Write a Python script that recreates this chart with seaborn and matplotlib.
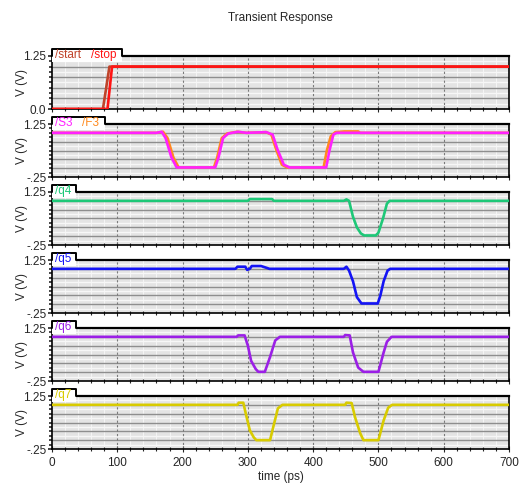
import numpy as np
import pandas as pd
import matplotlib
matplotlib.use("Agg")
import matplotlib.pyplot as plt
from matplotlib.patches import Rectangle
from matplotlib import font_manager
import seaborn as sns

# ---------------- data (time in ps, voltage in V) ----------------
start_t = [0, 78, 88, 700]
start_v = [0.0, 0.0, 1.0, 1.0]
stop_t = [0, 85, 92, 700]
stop_v = [0.0, 0.0, 1.0, 1.0]

S3_t = [0, 160, 168, 174, 183, 191, 250, 255, 262, 270, 285, 298, 328, 338, 345, 355, 364, 420, 425, 431, 436, 700]
S3_v = [1.0, 1.0, 1.03, 0.85, 0.30, 0.02, 0.02, 0.30, 0.85, 0.98, 1.03, 1.0, 1.02, 0.95, 0.55, 0.10, 0.02, 0.02, 0.50, 0.95, 1.0, 1.0]
F3_t = [0, 160, 170, 177, 186, 194, 248, 253, 260, 268, 283, 298, 328, 336, 343, 352, 360, 416, 421, 427, 434, 448, 469, 472, 700]
F3_v = [1.0, 1.0, 1.03, 0.85, 0.30, 0.02, 0.02, 0.30, 0.85, 0.98, 1.03, 1.0, 1.02, 0.95, 0.55, 0.10, 0.02, 0.02, 0.50, 0.90, 1.02, 1.04, 1.04, 1.0, 1.0]

q4_t = [0, 300, 303, 337, 340, 447, 451, 455, 461, 467, 473, 478, 496, 500, 507, 513, 517, 700]
q4_v = [1.0, 1.0, 1.05, 1.05, 1.0, 1.0, 1.04, 1.0, 0.55, 0.25, 0.08, 0.02, 0.02, 0.10, 0.50, 0.92, 1.0, 1.0]

q5_t = [0, 281, 284, 296, 299, 303, 306, 320, 330, 333, 447, 451, 455, 461, 467, 474, 499, 503, 508, 514, 518, 700]
q5_v = [1.0, 1.0, 1.06, 1.06, 0.97, 1.0, 1.08, 1.08, 1.02, 1.0, 1.0, 1.06, 0.95, 0.65, 0.20, 0.02, 0.02, 0.25, 0.65, 0.95, 1.0, 1.0]

q6_t = [0, 283, 285, 295, 300, 305, 312, 316, 326, 334, 342, 349, 447, 449, 456, 461, 469, 477, 500, 508, 513, 520, 700]
q6_v = [1.0, 1.0, 1.04, 1.04, 0.75, 0.32, 0.09, 0.01, 0.01, 0.43, 0.90, 1.0, 1.0, 1.05, 1.04, 0.56, 0.13, 0.01, 0.01, 0.56, 0.86, 1.0, 1.0]

q7_t = [0, 284, 286, 293, 298, 303, 309, 313, 334, 339, 346, 353, 449, 451, 459, 464, 472, 477, 500, 508, 515, 521, 700]
q7_v = [1.0, 1.0, 1.06, 1.06, 0.66, 0.28, 0.08, 0.0, 0.0, 0.38, 0.90, 1.0, 1.0, 1.06, 1.05, 0.66, 0.20, 0.0, 0.0, 0.56, 0.92, 1.0, 1.0]

# (label, times, values, colour, draw order)
panels = [
    [("/start", start_t, start_v, "#c0432a", 1), ("/stop", stop_t, stop_v, "#ff1414", 2)],
    [("/S3", S3_t, S3_v, "#ff22ff", 2), ("/F3", F3_t, F3_v, "#ff8a1e", 1)],
    [("/q4", q4_t, q4_v, "#1ec878", 1)],
    [("/q5", q5_t, q5_v, "#1414f5", 1)],
    [("/q6", q6_t, q6_v, "#9b1fe6", 1)],
    [("/q7", q7_t, q7_v, "#d8cb00", 1)],
]

x_ticks = [0, 100, 200, 300, 400, 500, 600, 700]
title = "Transient Response"
xlabel = "time (ps)"
ylabel = "V (V)"

# ---------------- style ----------------
sns.set_theme(style="white")
names = {f.name for f in font_manager.fontManager.ttflist}
if "Liberation Sans Narrow" in names:
    fam = "Liberation Sans Narrow"
    fs = 9.5
else:
    fam = "Liberation Sans"
    fs = 8.5
plt.rcParams["font.family"] = [fam, "DejaVu Sans"]
plt.rcParams["axes.linewidth"] = 1.2

W, H = 520, 486
fig, axes = plt.subplots(6, 1, figsize=(W / 100, H / 100), dpi=100, sharex=True)
fig.subplots_adjust(left=52 / W, right=509 / W, top=1 - 56 / H, bottom=1 - 449 / H, hspace=15 / 53)

ax_w_px = 457
ax_h_px = 53

for i, (ax, series) in enumerate(zip(axes, panels)):
    ylo = 0.0 if i == 0 else -0.25
    yhi = 1.25
    ax.set_facecolor("#e4e4e4")
    ax.set_xlim(0, 700)
    ax.set_ylim(ylo, yhi)

    # background grid
    ys = np.arange(ylo, yhi + 1e-9, 0.25)
    for y in ys[1:-1]:
        ax.axhline(y, color="#8e8e8e", lw=1.0, zorder=0.5)
    for y in ys[:-1] + 0.125:
        ax.axhline(y, color="#f7f7f7", lw=1.0, zorder=0.5)
    for x in range(20, 700, 20):
        if x % 100:
            ax.axvline(x, color="#f5f5f5", lw=0.8, zorder=0.4)
    for x in range(100, 700, 100):
        ax.axvline(x, color="#7a7a7a", lw=0.8, ls=(0, (2, 2)), zorder=0.6)

    # traces
    for name, t, v, col, order in sorted(series, key=lambda s: s[4]):
        df = pd.DataFrame({"t": t, "v": v})
        sns.lineplot(data=df, x="t", y="v", ax=ax, color=col, lw=1.9,
                     estimator=None, sort=False, zorder=3)

    # ticks
    ax.set_yticks([ylo, yhi])
    ax.set_yticklabels(["0.0" if i == 0 else "-.25", "1.25"], fontsize=fs)
    ax.set_yticks(np.arange(ylo, yhi + 1e-9, 0.125), minor=True)
    ax.tick_params(axis="y", which="major", left=True, direction="out", length=3, width=1.2, pad=1)
    ax.tick_params(axis="y", which="minor", left=True, direction="out", length=2.5, width=1.2)
    ax.set_xticks(x_ticks)
    ax.set_xticks(range(0, 701, 20), minor=True)
    ax.tick_params(axis="x", which="major", bottom=True, direction="inout", length=5, width=0.8)
    ax.tick_params(axis="x", which="minor", bottom=True, direction="inout", length=3, width=0.8)
    ax.set_ylabel(ylabel, fontsize=fs)
    ax.yaxis.set_label_coords(-(52 - 28) / ax_w_px, 0.5)
    ax.set_xlabel("")
    for s in ax.spines.values():
        s.set_color("black")
        s.set_linewidth(1.2)
    ax.spines["top"].set_linewidth(1.6)

    # tab with trace names
    fig.canvas.draw()
    xpos = 3 / ax_w_px
    texts = []
    for name, t, v, col, order in series:
        txt = ax.text(xpos, 1 - 5 / ax_h_px, name, transform=ax.transAxes, color=col,
                      fontsize=fs, ha="left", va="bottom", zorder=7, clip_on=False)
        bb = txt.get_window_extent(renderer=fig.canvas.get_renderer())
        xpos += (bb.width + 10) / ax_w_px
        texts.append(bb)
    tw = (texts[-1].x1 - ax.get_window_extent().x0 + 5) / ax_w_px
    rect = Rectangle((0, 1 - 6 / ax_h_px), tw, 13 / ax_h_px, transform=ax.transAxes,
                     facecolor="white", edgecolor="none", clip_on=False, zorder=5)
    ax.add_patch(rect)
    ax.plot([0, 0, tw, tw], [1, 1 + 7 / ax_h_px, 1 + 7 / ax_h_px, 1], transform=ax.transAxes,
            color="black", lw=1.4, clip_on=False, zorder=6)

axes[-1].set_xticklabels([str(x) for x in x_ticks], fontsize=fs)
axes[-1].set_xlabel(xlabel, fontsize=fs, labelpad=1)
for ax in axes[:-1]:
    ax.tick_params(axis="x", labelbottom=False)

fig.text(280 / W, 1 - 18 / H, title, ha="center", va="center", fontsize=fs)

fig.savefig("out.png", dpi=100)
